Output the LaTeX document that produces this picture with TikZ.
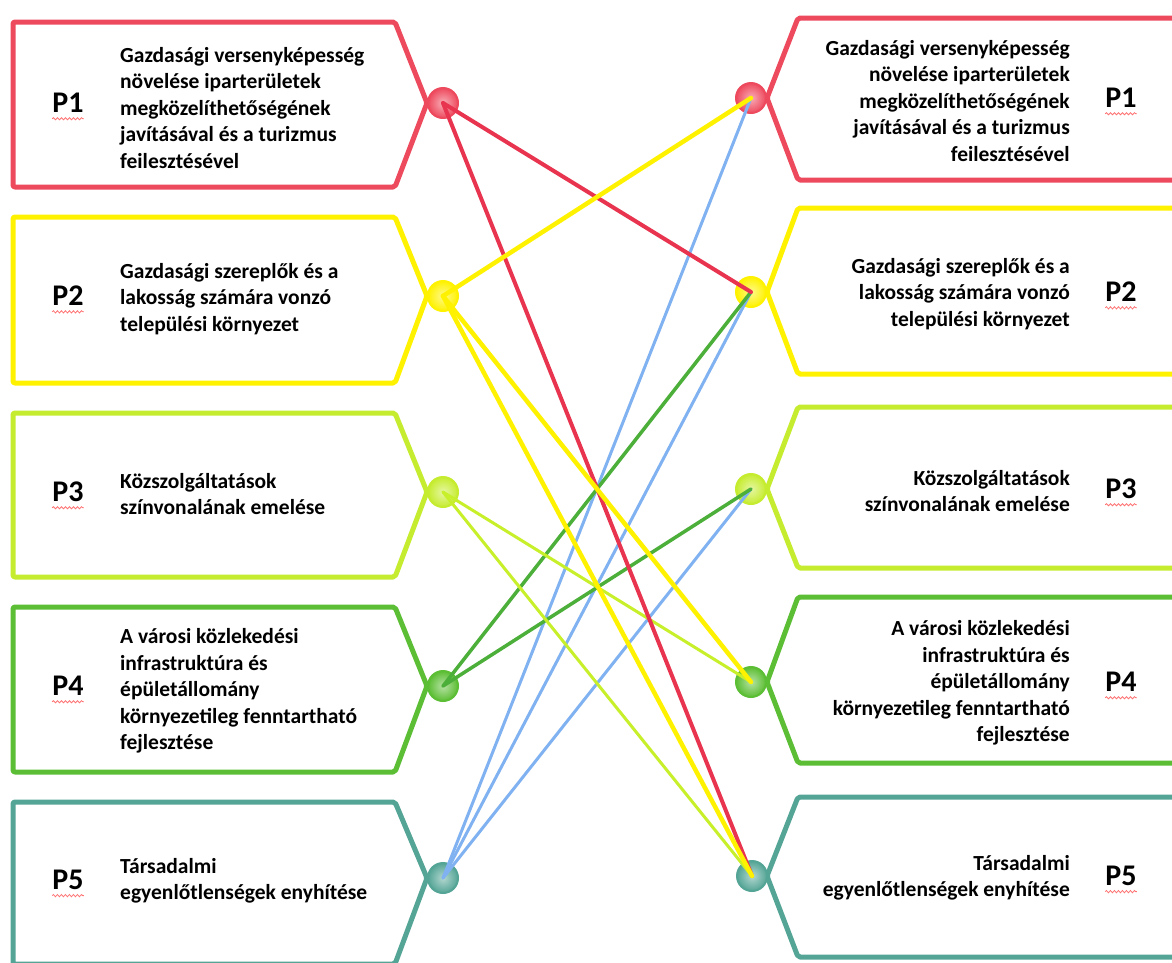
\documentclass[tikz,border=0pt]{standalone}
\usepackage{fontspec}
\setmainfont{Carlito}
\usetikzlibrary{decorations.pathmorphing}
\definecolor{cRed}{HTML}{EE4A5E}
\definecolor{cRedL}{HTML}{E8344E}
\definecolor{cYel}{HTML}{FFF200}
\definecolor{cLime}{HTML}{C6EC30}
\definecolor{cLimeL}{HTML}{C8F02A}
\definecolor{cGrn}{HTML}{5CBE34}
\definecolor{cGrnL}{HTML}{4CAF3A}
\definecolor{cTeal}{HTML}{55A596}
\definecolor{cBlue}{HTML}{80B2F2}
\newcommand\LeftTag[4]{\draw[tagline,#1] (13,#2) -- (395,#2) -- (427,#4) -- (395,#3) -- (13,#3) -- cycle;}
\newcommand\RightTag[4]{\draw[tagline,#1] (1190,#2) -- (798,#2) -- (767,#4) -- (798,#3) -- (1190,#3) -- cycle;}
\tikzset{
  tagline/.style={line width=5pt, line join=round, rounded corners=2pt},
  dot/.style={circle, minimum size=30pt, inner sep=0pt, draw=#1, line width=2pt, inner color=white!55!#1, outer color=#1},
  ltext/.style={anchor=west, align=left, inner sep=0pt, font=\fontsize{21.5}{26.5}\selectfont\bfseries},
  rtext/.style={anchor=east, align=right, inner sep=0pt, font=\fontsize{21.5}{26.5}\selectfont\bfseries},
  plabel/.style={inner sep=0pt, font=\fontsize{30}{31}\selectfont\bfseries},
  squig/.style={draw=red!55!white, line width=0.8pt, decorate, decoration={snake, amplitude=1.1pt, segment length=4pt}},
  conn/.style={line width=#1, line cap=round},
}
\begin{document}
\begin{tikzpicture}[x=1pt,y=-1pt]
\useasboundingbox (0,0) rectangle (1172,962);
\fill[white] (0,0) rectangle (1172,962);
% left tags
\LeftTag{cRed}{22}{187}{103}
\LeftTag{cYel}{217}{383}{296}
\LeftTag{cLime}{413}{577}{492}
\LeftTag{cGrn}{607}{772}{686}
\LeftTag{cTeal}{802}{964}{878}
% right tags
\begin{scope}
\clip (0,0) rectangle (1172,962);
\RightTag{cRed}{18}{180}{98}
\RightTag{cYel}{208}{374}{292}
\RightTag{cLime}{407}{568}{489}
\RightTag{cGrn}{597}{763}{682}
\RightTag{cTeal}{797}{957}{876}
\end{scope}
% dots
\node[dot=cRed] (L1) at (443,103) {};
\node[dot=cYel] (L2) at (443,296) {};
\node[dot=cLime] (L3) at (443,492) {};
\node[dot=cGrn] (L4) at (443,686) {};
\node[dot=cTeal] (L5) at (443,878) {};
\node[dot=cRed] (R1) at (751,98) {};
\node[dot=cYel] (R2) at (751,292) {};
\node[dot=cLime] (R3) at (751,489) {};
\node[dot=cGrn] (R4) at (751,682) {};
\node[dot=cTeal] (R5) at (752,876) {};
% labels
\node[plabel] (pl1) at (68,103) {P1};
\node[plabel] (pl2) at (68,296) {P2};
\node[plabel] (pl3) at (68,492) {P3};
\node[plabel] (pl4) at (68,686) {P4};
\node[plabel] (pl5) at (68,880) {P5};
\node[plabel] (pr1) at (1121,98) {P1};
\node[plabel] (pr2) at (1121,292) {P2};
\node[plabel] (pr3) at (1121,489) {P3};
\node[plabel] (pr4) at (1121,682) {P4};
\node[plabel] (pr5) at (1121,876) {P5};
\foreach \n in {pl1,pl2,pl3,pl4,pl5,pr1,pr2,pr3,pr4,pr5}{
  \draw[squig] ([yshift=-6pt]\n.base west) -- ([yshift=-6pt]\n.base east);
}
% texts left
\node[ltext] (tl1) at (120,108) {Gazdasági versenyképesség\\növelése iparterületek\\megközelíthetőségének\\javításával és a turizmus\\feilesztésével};
\node[ltext] (tl2) at (120,299) {Gazdasági szereplők és a\\lakosság számára vonzó\\települési környezet};
\node[ltext] (tl3) at (120,494) {Közszolgáltatások\\színvonalának emelése};
\node[ltext] (tl4) at (120,691) {A városi közlekedési\\infrastruktúra és\\épületállomány\\környezetileg fenntartható\\fejlesztése};
\node[ltext] (tl5) at (120,881) {Társadalmi\\egyenlőtlenségek enyhítése};
% texts right
\node[rtext] (tr1) at (1070,101) {Gazdasági versenyképesség\\növelése iparterületek\\megközelíthetőségének\\javításával és a turizmus\\feilesztésével};
\node[rtext] (tr2) at (1070,294) {Gazdasági szereplők és a\\lakosság számára vonzó\\települési környezet};
\node[rtext] (tr3) at (1070,491) {Közszolgáltatások\\színvonalának emelése};
\node[rtext] (tr4) at (1070,683) {A városi közlekedési\\infrastruktúra és\\épületállomány\\környezetileg fenntartható\\fejlesztése};
\node[rtext] (tr5) at (1070,878) {Társadalmi\\egyenlőtlenségek enyhítése};
% connectors
\draw[conn=3pt, cBlue] (L5.center) -- (R1.center);
\draw[conn=3pt, cBlue] (L5.center) -- (R2.center);
\draw[conn=3pt, cBlue] (L5.center) -- (R3.center);
\draw[conn=3.5pt, cGrnL] (L4.center) -- (R2.center);
\draw[conn=3.5pt, cGrnL] (L4.center) -- (R3.center);
\draw[conn=3pt, cLimeL] (L3.center) -- (R4.center);
\draw[conn=3pt, cLimeL] (L3.center) -- (R5.center);
\draw[conn=4pt, cRedL] (L1.center) -- (R2.center);
\draw[conn=4pt, cRedL] (L1.center) -- (R5.center);
\draw[conn=4.5pt, cYel] (L2.center) -- (R1.center);
\draw[conn=4.5pt, cYel] (L2.center) -- (R4.center);
\draw[conn=4.5pt, cYel] (L2.center) -- (R5.center);
\end{tikzpicture}
\end{document}
